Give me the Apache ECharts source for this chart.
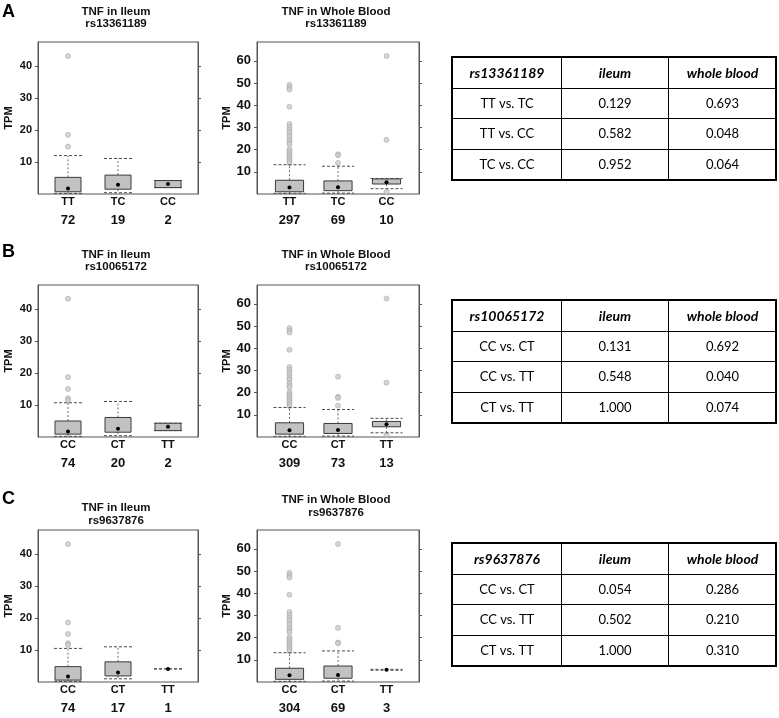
<!DOCTYPE html>
<html><head><meta charset="utf-8">
<script src="https://cdn.jsdelivr.net/npm/echarts@6/dist/echarts.min.js"></script>
<style>html,body{margin:0;padding:0;background:#fff}#c{width:779px;height:718px}</style>
</head><body><div id="c"></div><script>
// ---------- data ----------
const ileumTicks = [10, 20, 30, 40];
const bloodTicks = [10, 20, 30, 40, 50, 60];
const tableCols = ['ileum', 'whole blood'];

// Panel A: rs13361189
const A_snp = 'rs13361189';
const A_genotypes = ['TT', 'TC', 'CC'];
const A_ileumN = [72, 19, 2];
const A_bloodN = [297, 69, 10];
// [low, q1, median, q3, high]
const A_ileumBox = [[0.2, 0.7, 1.7, 5.2, 12.0], [0.4, 1.5, 2.9, 5.9, 11.1], [2.0, 2.0, 3.1, 4.2, 4.2]];
const A_ileumOut = [[43.1, 18.5, 14.8], [], []];
const A_bloodBox = [[0.3, 1.0, 2.9, 6.2, 13.2], [0.4, 1.5, 3.0, 5.9, 12.5], [2.4, 4.5, 5.3, 6.8, 7.0]];
const A_bloodOut = [[49.1, 48.0, 47.1, 39.3, 31.5, 30.3, 29.1, 27.9, 26.6, 25.8, 24.3, 23.3, 22.4, 20.2, 19.3, 18.4, 17.5, 16.6, 15.7, 14.8, 13.9], [17.9, 17.5, 14.0], [62.2, 24.4, 1.0]];
const A_rows = ['TT vs. TC', 'TT vs. CC', 'TC vs. CC'];
const A_pIleum = ['0.129', '0.582', '0.952'];
const A_pBlood = ['0.693', '0.048', '0.064'];

// Panel B: rs10065172
const B_snp = 'rs10065172';
const B_genotypes = ['CC', 'CT', 'TT'];
const B_ileumN = [74, 20, 2];
const B_bloodN = [309, 73, 13];
const B_ileumBox = [[0.2, 0.9, 1.7, 5.0, 10.7], [0.4, 1.5, 2.6, 6.1, 11.1], [2.0, 2.0, 3.2, 4.3, 4.3]];
const B_ileumOut = [[43.2, 18.7, 15.0, 12.1, 11.5], [], []];
const B_bloodBox = [[0.3, 1.3, 3.0, 6.4, 13.3], [0.4, 1.6, 3.2, 6.1, 12.4], [1.9, 4.6, 5.7, 7.0, 8.4]];
const B_bloodOut = [[49.1, 48.0, 47.1, 39.3, 31.5, 30.3, 29.1, 27.9, 26.6, 25.8, 24.3, 23.3, 22.4, 20.2, 19.3, 18.4, 17.5, 16.6, 15.7, 14.8, 13.9], [27.2, 18.1, 17.6, 14.1], [62.4, 24.5, 0.9]];
const B_rows = ['CC vs. CT', 'CC vs. TT', 'CT vs. TT'];
const B_pIleum = ['0.131', '0.548', '1.000'];
const B_pBlood = ['0.692', '0.040', '0.074'];

// Panel C: rs9637876
const C_snp = 'rs9637876';
const C_genotypes = ['CC', 'CT', 'TT'];
const C_ileumN = [74, 17, 1];
const C_bloodN = [304, 69, 3];
const C_ileumBox = [[0.2, 0.6, 1.7, 4.8, 10.5], [1.0, 1.9, 3.0, 6.3, 11.0], [4.1, 4.1, 4.1, 4.1, 4.1]];
const C_ileumOut = [[43.1, 18.6, 15.0, 12.1, 11.6], [], []];
const C_bloodBox = [[0.3, 1.2, 3.0, 6.2, 13.2], [0.4, 1.7, 3.2, 7.2, 14.0], [5.3, 5.4, 5.5, 5.6, 5.7]];
const C_bloodOut = [[49.1, 48.0, 47.1, 39.3, 31.5, 30.3, 29.1, 27.9, 26.6, 25.8, 24.3, 23.3, 22.4, 20.2, 19.3, 18.4, 17.5, 16.6, 15.7, 14.8, 13.9], [62.2, 24.4, 17.8, 17.4], []];
const C_rows = ['CC vs. CT', 'CC vs. TT', 'CT vs. TT'];
const C_pIleum = ['0.054', '0.502', '1.000'];
const C_pBlood = ['0.286', '0.210', '0.310'];

// ---------- layout ----------
const FONT = 'Liberation Sans, Arial, sans-serif';
const TFONT = 'Lato, "Open Sans", sans-serif';
const panels = [
  {top: 42, titleTop: [5.5, 5.5], letter: 'A', letterTop: 3.5, tableTop: 57,
   snp: A_snp, g: A_genotypes, iN: A_ileumN, bN: A_bloodN, iBox: A_ileumBox, iOut: A_ileumOut, bBox: A_bloodBox, bOut: A_bloodOut,
   rows: A_rows, pI: A_pIleum, pB: A_pBlood},
  {top: 285, titleTop: [248.5, 248.5], letter: 'B', letterTop: 243.5, tableTop: 300,
   snp: B_snp, g: B_genotypes, iN: B_ileumN, bN: B_bloodN, iBox: B_ileumBox, iOut: B_ileumOut, bBox: B_bloodBox, bOut: B_bloodOut,
   rows: B_rows, pI: B_pIleum, pB: B_pBlood},
  {top: 530, titleTop: [502, 494], letter: 'C', letterTop: 490, tableTop: 543,
   snp: C_snp, g: C_genotypes, iN: C_ileumN, bN: C_bloodN, iBox: C_ileumBox, iOut: C_ileumOut, bBox: C_bloodBox, bOut: C_bloodOut,
   rows: C_rows, pI: C_pIleum, pB: C_pBlood}
];
const cols = [
  {left: 38, width: 160, xmin: 0.4, xmax: 3.6, ymax: 47.5, ticks: ileumTicks, tickFont: 11, nameGap: 24, tissue: 'Ileum', titleX: 116, halfBox: 0.26, halfCap: 0.28},
  {left: 257, width: 162, xmin: 0.33, xmax: 3.67, ymax: 68.5, ticks: bloodTicks, tickFont: 13, nameGap: 23, tissue: 'Whole Blood', titleX: 336, halfBox: 0.29, halfCap: 0.33}
];

function boxRender(halfBox, halfCap) {
  return function (params, api) {
    const x = api.value(0);
    const pLow = api.coord([x, api.value(1)]);
    const pQ1 = api.coord([x, api.value(2)]);
    const pMed = api.coord([x, api.value(3)]);
    const pQ3 = api.coord([x, api.value(4)]);
    const pHigh = api.coord([x, api.value(5)]);
    const bw = api.size([halfBox, 0])[0];
    const cw = api.size([halfCap, 0])[0];
    const cx = pMed[0];
    const wStyle = {stroke: '#6a6a6a', lineWidth: 1, lineDash: [2, 2], fill: null};
    const cStyle = {stroke: '#4a4a4a', lineWidth: 1, lineDash: [3, 2], fill: null};
    const children = [
      {type: 'line', shape: {x1: cx, y1: pQ3[1], x2: cx, y2: pHigh[1]}, style: wStyle},
      {type: 'line', shape: {x1: cx, y1: pQ1[1], x2: cx, y2: pLow[1]}, style: wStyle},
      {type: 'line', shape: {x1: cx - cw, y1: pHigh[1], x2: cx + cw, y2: pHigh[1]}, style: cStyle},
      {type: 'line', shape: {x1: cx - cw, y1: pLow[1], x2: cx + cw, y2: pLow[1]}, style: cStyle}
    ];
    if (pQ1[1] - pQ3[1] > 0.5) {
      children.push({type: 'rect', shape: {x: cx - bw, y: pQ3[1], width: 2 * bw, height: pQ1[1] - pQ3[1]},
        style: {fill: '#c2c2c2', stroke: '#3a3a3a', lineWidth: 1}});
    }
    children.push({type: 'circle', shape: {cx: cx, cy: pMed[1], r: 2}, style: {fill: '#000'}});
    return {type: 'group', children: children};
  };
}

const grid = [], xAxis = [], yAxis = [], series = [], title = [], matrix = [];
panels.forEach((p, pi) => {
  title.push({text: p.letter, left: 2, top: p.letterTop, padding: 0,
    textStyle: {fontFamily: FONT, fontSize: 18, fontWeight: 'bold', color: '#000'}});
  cols.forEach((c, ci) => {
    const gi = grid.length;
    const N = ci === 0 ? p.iN : p.bN;
    const box = ci === 0 ? p.iBox : p.bBox;
    const out = ci === 0 ? p.iOut : p.bOut;
    grid.push({left: c.left, top: p.top, width: c.width, height: 152, show: true, borderColor: '#555', borderWidth: 1, backgroundColor: '#fff'});
    title.push({text: 'TNF in ' + c.tissue + '\n' + p.snp, left: c.titleX, top: p.titleTop[ci], textAlign: 'center', padding: 0,
      textStyle: {fontFamily: FONT, fontSize: 11.5, fontWeight: 'bold', color: '#111', lineHeight: 12.5}});
    xAxis.push({gridIndex: gi, type: 'value', min: c.xmin, max: c.xmax,
      axisLine: {show: false}, axisTick: {show: false}, splitLine: {show: false},
      axisLabel: {customValues: [1, 2, 3], margin: 1, color: '#111',
        formatter: (v) => '{c|' + p.g[Math.round(v) - 1] + '}\n{n|' + N[Math.round(v) - 1] + '}',
        rich: {c: {fontFamily: FONT, fontSize: 11, fontWeight: 'bold', lineHeight: 14, color: '#111'},
               n: {fontFamily: FONT, fontSize: 13, fontWeight: 'bold', lineHeight: 23, color: '#111'}}}});
    yAxis.push({gridIndex: gi, type: 'value', min: 0, max: c.ymax, position: 'left',
      axisLine: {show: true, lineStyle: {color: '#555'}},
      axisTick: {show: true, length: 3, customValues: c.ticks, lineStyle: {color: '#555'}},
      axisLabel: {customValues: c.ticks, fontFamily: FONT, fontSize: c.tickFont, fontWeight: 'bold', color: '#111', margin: 6},
      splitLine: {show: false},
      name: 'TPM', nameLocation: 'middle', nameGap: c.nameGap,
      nameTextStyle: {fontFamily: FONT, fontSize: 11, fontWeight: 'bold', color: '#111'}});
    yAxis.push({gridIndex: gi, type: 'value', min: 0, max: c.ymax, position: 'right',
      axisLine: {show: true, lineStyle: {color: '#555'}},
      axisTick: {show: true, length: 3, customValues: c.ticks, lineStyle: {color: '#555'}},
      axisLabel: {show: false}, splitLine: {show: false}});
    const yi = yAxis.length - 2;
    series.push({type: 'scatter', xAxisIndex: gi, yAxisIndex: yi, symbolSize: 5, z: 3,
      itemStyle: {color: '#cdcdcd', borderColor: '#a9a9a9', borderWidth: 0.8},
      data: out.flatMap((arr, k) => arr.map(v => [k + 1, v]))});
    series.push({type: 'custom', xAxisIndex: gi, yAxisIndex: yi, z: 4,
      renderItem: boxRender(c.halfBox, c.halfCap),
      data: box.map((b, k) => [k + 1].concat(b))});
  });
  const cellStyle = {color: '#fff', borderColor: '#000', borderWidth: 1};
  const headLabel = {fontFamily: TFONT, fontSize: 14, fontWeight: 'bold', fontStyle: 'italic', color: '#000'};
  const bodyLabel = {fontFamily: TFONT, fontSize: 13, color: '#000'};
  matrix.push({left: 452, top: p.tableTop, width: 324, height: 123,
    x: {data: tableCols, levelSize: 31, label: headLabel, itemStyle: cellStyle, dividerLineStyle: {color: '#000', width: 1}},
    y: {data: p.rows, levelSize: 109, label: bodyLabel, itemStyle: cellStyle, dividerLineStyle: {color: '#000', width: 1}},
    corner: {data: [{coord: [-1, -1], value: p.snp}], label: headLabel, itemStyle: cellStyle},
    body: {data: p.rows.flatMap((r, i) => [{coord: [0, i], value: p.pI[i]}, {coord: [1, i], value: p.pB[i]}]),
      label: bodyLabel, itemStyle: cellStyle},
    backgroundStyle: {color: '#fff', borderColor: '#000', borderWidth: 2}});
});

const chart = echarts.init(document.getElementById('c'), null, {renderer: 'canvas'});
chart.setOption({backgroundColor: '#fff', animation: false, title, grid, xAxis, yAxis, series, matrix});
</script></body></html>
